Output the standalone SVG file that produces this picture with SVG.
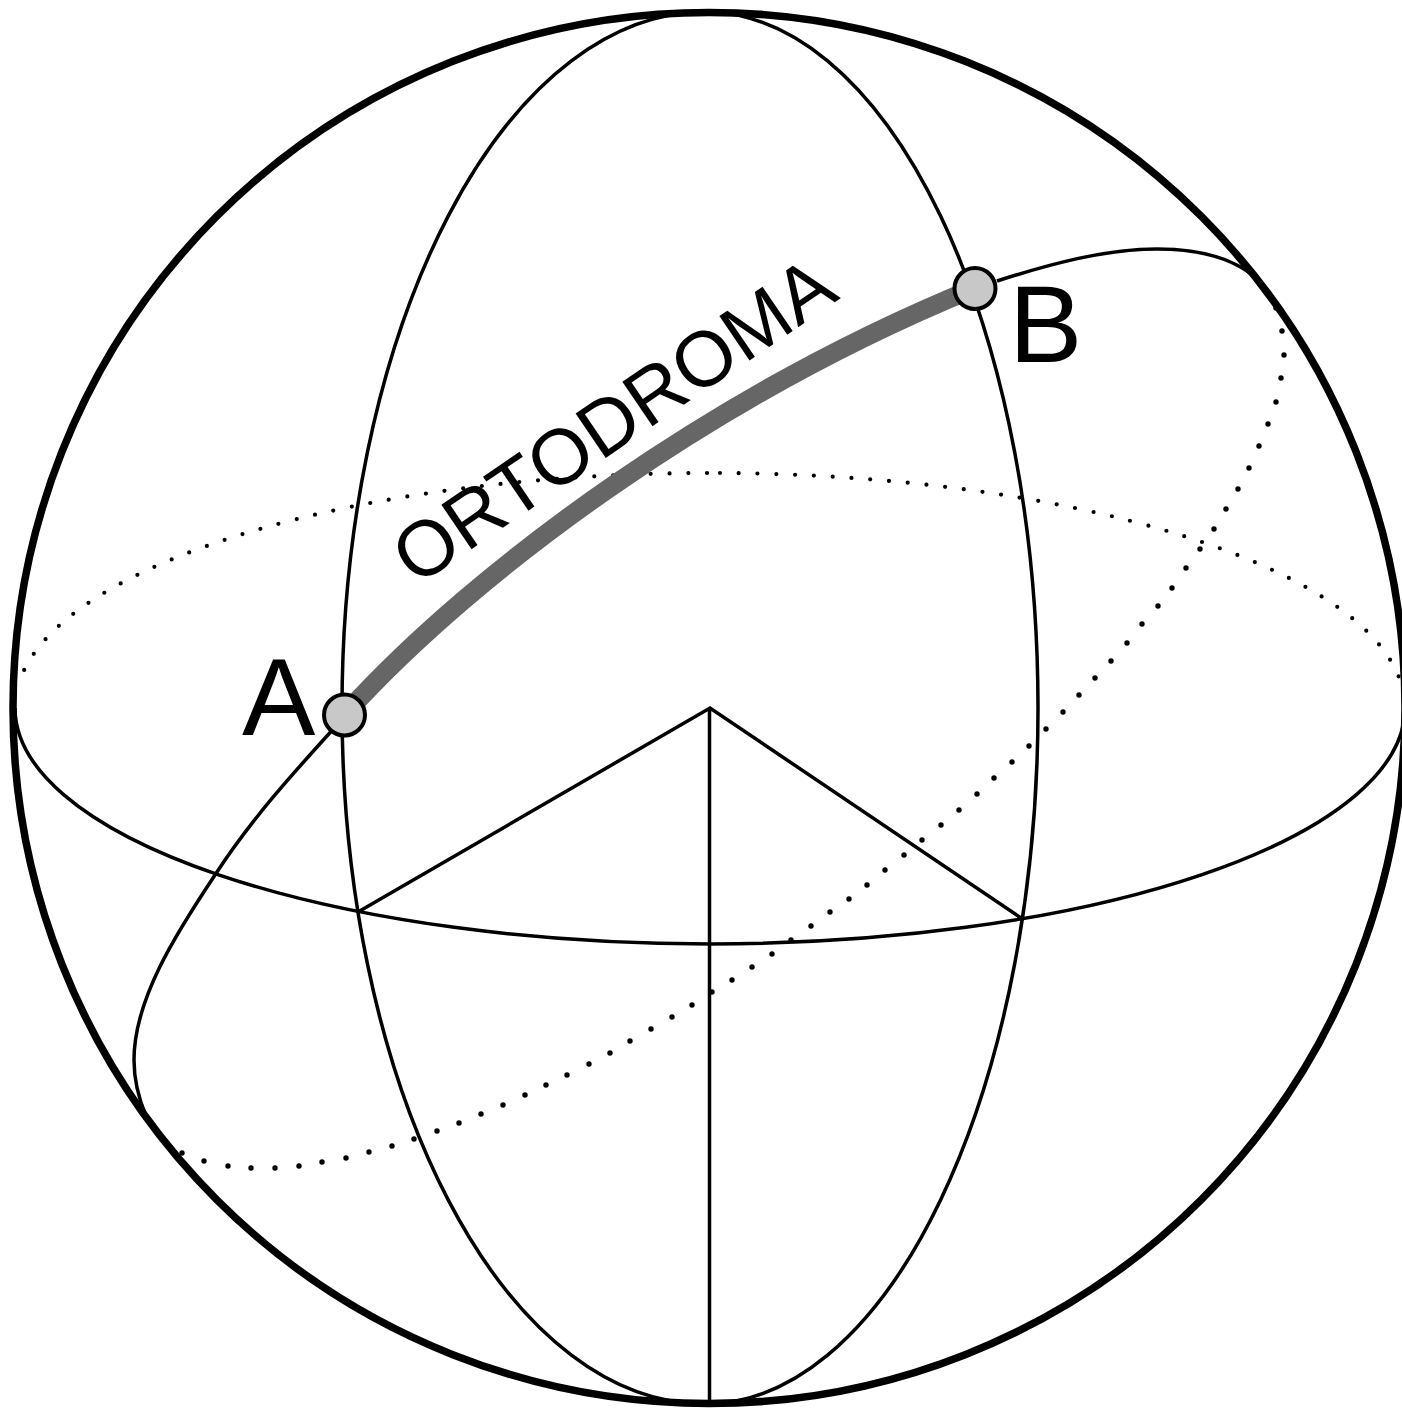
<svg xmlns="http://www.w3.org/2000/svg" width="1402" height="1408" viewBox="0 0 1402 1408">
<style>
.l{fill:none;stroke:#000;stroke-width:3.5}
.d{fill:none;stroke:#000;stroke-linecap:round}
.p{fill:#c8c8c8;stroke:#000;stroke-width:4}
text{font-family:"Liberation Sans",Arial,sans-serif;fill:#000}
</style>
<rect width="1402" height="1408" fill="#fff"/>
<g id="connectors">
<path class="d" stroke-width="4.2" stroke-dasharray="0 18.8" d="M707 473A695 235 0 0 0 21.5 676"/>
<path class="d" stroke-width="4.2" stroke-dasharray="0 18.8" d="M720 473A695 235 0 0 1 1401 683"/>
<path class="d" stroke-width="5.4" d="M1276 308h0M1282 331h0M1284 355h0M1281 378h0M1276 402h0M1268 424h0M1259 446h0M1249 468h0M1238 489h0M1226 509h0M1214 529h0M1200 549h0M1186 568h0M1172 588h0M1158 606h0M1142 624h0M1127 643h0M1111 661h0M1095 678h0M1079 695h0M1063 712h0M1046 729h0M1029 746h0M1012 762h0M994 778h0M977 794h0M959 810h0M941 825h0M922 840h0M904 855h0M885 870h0M867 885h0M849 899h0M830 912h0M811 926h0M791 940h0M772 954h0M752 967h0M732 980h0M712 992h0M692 1005h0M672 1017h0M651 1029h0M630 1041h0M610 1053h0M589 1064h0M567 1075h0M546 1085h0M525 1095h0M503 1105h0M481 1114h0M459 1123h0M437 1131h0M414 1139h0M392 1146h0M369 1152h0M346 1158h0M322 1162h0M299 1166h0M275 1168h0M251 1168h0M228 1166h0M204 1161h0M182 1153h0"/>
<path class="l" d="M15 708A695 236 0 0 0 1405 708"/>
<path class="l" d="M705 12A333 696 0 0 1 1038 708A333 696 0 0 1 705 1404A363 696 0 0 1 342 708A363 696 0 0 1 705 12"/>
<path class="l" d="M709.5 708V1404M358 912L710 708L1021 918"/>
<path class="l" d="M345 716C298 768 254 815 215 875C175 935 134 1000 134 1060C134 1080 138 1097 146 1116"/>
<path class="l" d="M997 281C1050 264 1105 249 1157 249C1200 249 1235 258 1258 280"/>
<path fill="none" stroke="#666" stroke-width="19" d="M345 714C480 565 720 392 975 288"/>
</g>
<g id="sphere"><ellipse cx="709" cy="708" rx="696" ry="695.5" fill="none" stroke="#000" stroke-width="7.5"/></g>
<g id="node-a"><circle class="p" cx="344.500" cy="715" r="20.500"/><text x="242" y="735" font-size="110">A</text></g>
<g id="node-b"><circle class="p" cx="975" cy="288.500" r="20.500"/><text x="1009" y="362" font-size="110">B</text></g>
<g id="label"><text x="0" y="0" font-size="78" transform="translate(416 587) rotate(-34.2)" textLength="514">ORTODROMA</text></g>
</svg>
